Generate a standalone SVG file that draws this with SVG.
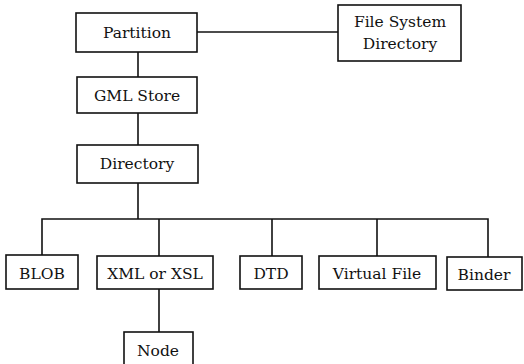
<svg xmlns="http://www.w3.org/2000/svg" width="524" height="364" viewBox="0 0 524 364">
  <style>
    .box { fill: #ffffff; stroke: #111111; stroke-width: 1.6; }
    .wire { fill: none; stroke: #111111; stroke-width: 1.6; }
    .lbl { font-family: "DejaVu Serif", "Liberation Serif", serif; font-size: 15.5px; fill: #111111; text-anchor: middle; }
  </style>
  <rect width="524" height="364" fill="#ffffff"/>

  <!-- hierarchy links -->
  <g id="connectors">
    <line class="wire" x1="197" y1="32" x2="338" y2="32"/>
    <line class="wire" x1="138" y1="52" x2="138" y2="77"/>
    <line class="wire" x1="138" y1="113" x2="138" y2="145"/>
    <line class="wire" x1="138" y1="183" x2="138" y2="219"/>
    <polyline class="wire" points="42,255 42,219 488,219 488,257"/>
    <line class="wire" x1="159" y1="219" x2="159" y2="256"/>
    <line class="wire" x1="272" y1="219" x2="272" y2="256"/>
    <line class="wire" x1="377" y1="219" x2="377" y2="256"/>
    <line class="wire" x1="159" y1="289" x2="159" y2="332"/>
  </g>

  <g id="partition">
    <rect class="box" x="76" y="13" width="121" height="39"/>
    <text class="lbl" x="137" y="38">Partition</text>
  </g>
  <g id="fs-directory">
    <rect class="box" x="338" y="5" width="123" height="56"/>
    <text class="lbl" x="400" y="27">File System</text>
    <text class="lbl" x="400" y="49">Directory</text>
  </g>
  <g id="gml-store">
    <rect class="box" x="77" y="77" width="120" height="36"/>
    <text class="lbl" x="137" y="101">GML Store</text>
  </g>
  <g id="directory">
    <rect class="box" x="77" y="145" width="121" height="38"/>
    <text class="lbl" x="137" y="169">Directory</text>
  </g>
  <g id="blob">
    <rect class="box" x="6" y="255" width="72" height="34"/>
    <text class="lbl" x="42" y="279">BLOB</text>
  </g>
  <g id="xml-xsl">
    <rect class="box" x="97" y="256" width="116" height="33"/>
    <text class="lbl" x="155" y="279">XML or XSL</text>
  </g>
  <g id="dtd">
    <rect class="box" x="240" y="256" width="62" height="33"/>
    <text class="lbl" x="271" y="279">DTD</text>
  </g>
  <g id="virtual-file">
    <rect class="box" x="319" y="256" width="117" height="33"/>
    <text class="lbl" x="377" y="279">Virtual File</text>
  </g>
  <g id="binder">
    <rect class="box" x="447" y="257" width="75" height="33"/>
    <text class="lbl" x="484" y="280">Binder</text>
  </g>
  <g id="node">
    <rect class="box" x="124" y="332" width="69" height="40"/>
    <text class="lbl" x="158" y="356">Node</text>
  </g>
</svg>
